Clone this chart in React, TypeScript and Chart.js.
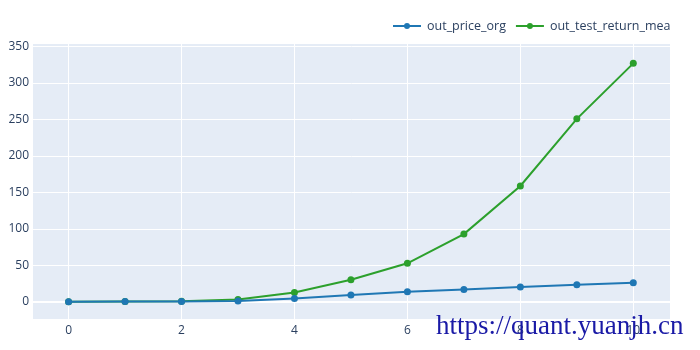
import React, { useEffect, useRef } from "react";
import { Chart, registerables } from "chart.js";

Chart.register(...registerables);

const xValues = [0, 1, 2, 3, 4, 5, 6, 7, 8, 9, 10];
const priceOrg = [0.5, 0.6, 0.7, 1.2, 4.8, 9.6, 14, 17, 20.5, 23.5, 26.5];
const testReturnMean = [0.5, 0.8, 1.0, 3.5, 13, 30.5, 53, 93, 159, 251, 327];
const seriesNames = ["out_price_org", "out_test_return_mea"];
const seriesColors = ["#1f77b4", "#2ca02c"];
const watermark = "https://quant.yuanjh.cn";

const FONT = '"Open Sans", "Noto Sans", sans-serif';

const bgPlugin = {
  id: "plotBg",
  beforeDraw(chart: any) {
    const { ctx, chartArea } = chart;
    ctx.save();
    ctx.fillStyle = "#E5ECF6";
    ctx.fillRect(chartArea.left, chartArea.top, chartArea.right - chartArea.left, chartArea.bottom - chartArea.top);
    ctx.restore();
  },
};

const legendPlugin = {
  id: "plotlyLegend",
  afterDraw(chart: any) {
    const { ctx } = chart;
    ctx.save();
    ctx.font = `12.5px ${FONT}`;
    ctx.textBaseline = "middle";
    let x = 393;
    const y = 26;
    chart.data.datasets.forEach((ds: any) => {
      ctx.strokeStyle = ds.borderColor;
      ctx.lineWidth = 2;
      ctx.beginPath();
      ctx.moveTo(x, y);
      ctx.lineTo(x + 28, y);
      ctx.stroke();
      ctx.fillStyle = ds.borderColor;
      ctx.beginPath();
      ctx.arc(x + 14, y, 3, 0, Math.PI * 2);
      ctx.fill();
      ctx.fillStyle = "#2a3f5f";
      ctx.textAlign = "left";
      const tx = x + 34;
      ctx.fillText(ds.label, tx, y);
      x = tx + ctx.measureText(ds.label).width + 10;
    });
    ctx.restore();
  },
};

export default function App() {
  const ref = useRef<HTMLCanvasElement>(null);
  useEffect(() => {
    const chart = new Chart(ref.current!, {
      type: "line",
      data: {
        labels: xValues,
        datasets: [
          {
            label: seriesNames[0],
            data: xValues.map((x, i) => ({ x, y: priceOrg[i] })),
            borderColor: seriesColors[0],
            backgroundColor: seriesColors[0],
            borderWidth: 2,
            pointRadius: 3.5,
            pointBorderWidth: 0,
            tension: 0,
          },
          {
            label: seriesNames[1],
            data: xValues.map((x, i) => ({ x, y: testReturnMean[i] })),
            borderColor: seriesColors[1],
            backgroundColor: seriesColors[1],
            borderWidth: 2,
            pointRadius: 3.5,
            pointBorderWidth: 0,
            tension: 0,
          },
        ],
      },
      options: {
        animation: false,
        responsive: false,
        maintainAspectRatio: false,
        layout: { padding: { top: 44, right: 30, left: 0, bottom: 0 } },
        plugins: { legend: { display: false }, tooltip: { enabled: false } },
        scales: {
          x: {
            type: "linear",
            min: -0.63,
            max: 10.65,
            afterFit: (s: any) => {
              s.height = 31;
            },
            ticks: {
              stepSize: 2,
              includeBounds: false,
              color: "#2a3f5f",
              font: { family: FONT, size: 12 },
              padding: 4,
            },
            grid: {
              color: "#ffffff",
              lineWidth: 1,
              drawTicks: false,
            },
            border: { display: false },
          },
          y: {
            type: "linear",
            min: -23.3,
            max: 353.5,
            afterFit: (s: any) => {
              s.width = 33;
            },
            ticks: {
              stepSize: 50,
              includeBounds: false,
              color: "#2a3f5f",
              font: { family: FONT, size: 12 },
              padding: 4,
            },
            grid: {
              color: "#ffffff",
              lineWidth: (c: any) => (c.tick && c.tick.value === 0 ? 2 : 1),
              drawTicks: false,
            },
            border: { display: false },
          },
        },
      },
      plugins: [bgPlugin, legendPlugin],
    } as any);
    return () => chart.destroy();
  }, []);

  return (
    <div style={{ position: "fixed", left: 0, top: 0, width: 700, height: 350, background: "#fff", overflow: "hidden" }}>
      <canvas ref={ref} width={700} height={350} style={{ width: 700, height: 350, display: "block" }} />
      <div
        style={{
          position: "absolute",
          left: 436,
          top: 312,
          fontFamily: '"Liberation Serif", serif',
          fontSize: 27,
          lineHeight: "27px",
          color: "#1a1aa6",
          whiteSpace: "nowrap",
        }}
      >
        {watermark}
      </div>
    </div>
  );
}
